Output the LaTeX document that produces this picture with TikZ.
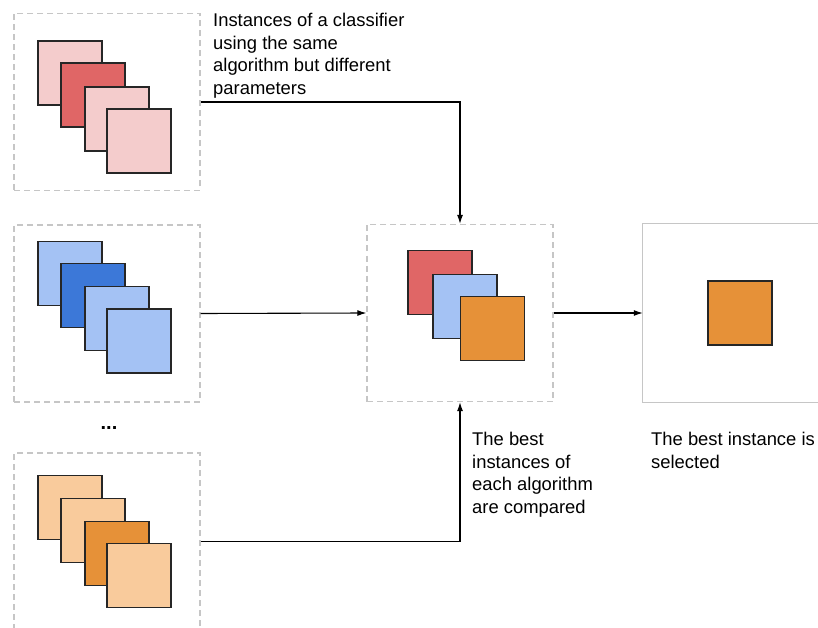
\documentclass[tikz,border=0pt]{standalone}
\usepackage{fontspec}
\setmainfont{Liberation Sans}
\usetikzlibrary{arrows.meta}
\definecolor{lightred}{HTML}{F4CCCC}
\definecolor{darkred}{HTML}{E06666}
\definecolor{lightblue}{HTML}{A4C2F4}
\definecolor{darkblue}{HTML}{3C78D8}
\definecolor{lightorange}{HTML}{F9CB9C}
\definecolor{darkorange}{HTML}{E69138}
\definecolor{framegray}{HTML}{C6C6C6}
\tikzset{
  sq/.style={draw=black!85,line width=1.3pt,minimum width=64pt,minimum height=64pt,inner sep=0pt},
  group/.style={draw=framegray,line width=1.3pt,dash pattern=on 6pt off 4pt,minimum width=186pt,minimum height=177pt,inner sep=0pt},
  note/.style={anchor=north west,inner sep=0pt,align=left,font=\fontsize{18.4}{22.7}\selectfont},
  link/.style={line width=1.1pt,-{Latex[length=9pt,width=6pt]}}
}
\begin{document}
\begin{tikzpicture}[x=1pt,y=-1pt]
        \useasboundingbox (0,0) rectangle (818,628);
        \node[group] (algA) at (107,102) {};
        \node[group] (algB) at (107,313.5) {};
        \node[group] (algC) at (107,541.5) {};
        \node[group] (cmp) at (460,313) {};
        % selected box, open to the right
        \node[minimum width=200pt,minimum height=178pt,inner sep=0pt] (sel) at (743,313) {};
        \draw[framegray,line width=1.3pt] (sel.north east) -- (sel.north west) -- (sel.south west) -- (sel.south east);
        \node[sq,fill=lightred] (a1) at (70,73) {};
        \node[sq,fill=darkred] (a2) at (93,95) {};
        \node[sq,fill=lightred] (a3) at (117,119) {};
        \node[sq,fill=lightred] (a4) at (139,141) {};
        \node[sq,fill=lightblue] (b1) at (70,273.5) {};
        \node[sq,fill=darkblue] (b2) at (93,295.5) {};
        \node[sq,fill=lightblue] (b3) at (117,318.5) {};
        \node[sq,fill=lightblue] (b4) at (139,341) {};
        \node[sq,fill=lightorange] (c1) at (70,507.5) {};
        \node[sq,fill=lightorange] (c2) at (93,530.5) {};
        \node[sq,fill=darkorange] (c3) at (117,553.5) {};
        \node[sq,fill=lightorange] (c4) at (139,575.5) {};
        \node[sq,fill=darkred] (bestA) at (440,282.5) {};
        \node[sq,fill=lightblue] (bestB) at (465,306.5) {};
        \node[sq,fill=darkorange] (bestC) at (492.5,328.5) {};
        \node[sq,fill=darkorange] (winner) at (740,313) {};
        \node[font=\fontsize{20}{22}\selectfont\bfseries] (dots) at (109,428) {...};
        \node[note] (txtA) at (213,13) {Instances of a classifier\\using the same\\algorithm but different\\parameters};
        \node[note] (txtC) at (472,432) {The best\\instances of\\each algorithm\\are compared};
        \node[note] (txtS) at (651,432) {The best instance is\\selected};
        \draw[link] (algA.east) -| (cmp.north);
        \draw[link] (algB.east) -- (cmp.west);
        \draw[link] (algC.east) -| (cmp.south);
        \draw[link] (cmp.east) -- (sel.west);
\end{tikzpicture}
\end{document}
